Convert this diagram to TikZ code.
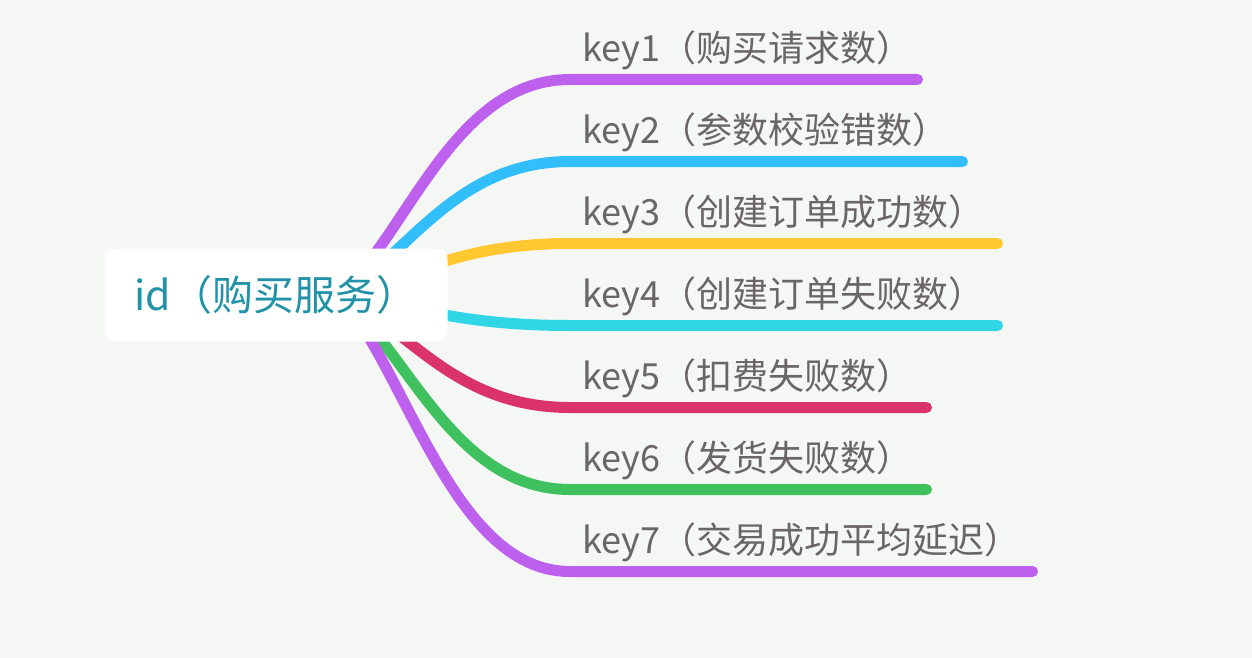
\documentclass[tikz,border=0pt]{standalone}
\usepackage{fontspec}
\setmainfont{Noto Sans CJK SC}
\definecolor{bgcol}{RGB}{245,247,245}
\definecolor{rootcol}{RGB}{33,146,168}
\definecolor{keycol}{RGB}{106,102,100}
\definecolor{kpurple}{RGB}{190,96,238}
\definecolor{kblue}{RGB}{50,190,250}
\definecolor{kyellow}{RGB}{255,199,48}
\definecolor{kcyan}{RGB}{48,214,230}
\definecolor{kred}{RGB}{218,51,106}
\definecolor{kgreen}{RGB}{64,193,96}
\usetikzlibrary{shapes}
\tikzstyle{rootbox}=[rectangle,rounded corners=10pt,fill=white,text=rootcol,minimum width=343pt,minimum height=93pt,inner sep=0pt,font=\fontsize{41}{46}\selectfont]
\tikzstyle{keylabel}=[anchor=base west,inner sep=0pt,text=keycol,font=\fontsize{36}{40}\selectfont]
\tikzstyle{branch} = [draw,line width=11pt,line cap=round]

\begin{document}
\begin{tikzpicture}[x=1pt,y=-1pt]

            \fill[bgcol] (0,0) rectangle (1252,658);
            \useasboundingbox (0,0) rectangle (1252,658);

            \coordinate (hub) at (340,295);

            \coordinate (s1) at (570,79.5);  \coordinate (e1) at (917.5,79.5);
            \coordinate (s2) at (570,161.5); \coordinate (e2) at (962.5,161.5);
            \coordinate (s3) at (570,243.5); \coordinate (e3) at (997.5,243.5);
            \coordinate (s4) at (570,325.5); \coordinate (e4) at (997.5,325.5);
            \coordinate (s5) at (570,407.5); \coordinate (e5) at (926.5,407.5);
            \coordinate (s6) at (570,489.5); \coordinate (e6) at (926.5,489.5);
            \coordinate (s7) at (570,571.5); \coordinate (e7) at (1032.5,571.5);

            \path[branch,color=kpurple] (hub) .. controls (409,230.35) and (455,79.5) .. (s1) -- (e1);
            \path[branch,color=kblue] (hub) .. controls (409,254.95) and (455,161.5) .. (s2) -- (e2);
            \path[branch,color=kyellow] (hub) .. controls (409,279.55) and (455,243.5) .. (s3) -- (e3);
            \path[branch,color=kcyan] (hub) .. controls (409,304.15) and (455,325.5) .. (s4) -- (e4);
            \path[branch,color=kred] (hub) .. controls (409,328.75) and (455,407.5) .. (s5) -- (e5);
            \path[branch,color=kgreen] (hub) .. controls (409,353.35) and (455,489.5) .. (s6) -- (e6);
            \path[branch,color=kpurple] (hub) .. controls (409,377.95) and (455,571.5) .. (s7) -- (e7);

            \node[rootbox] (root) at (276,295) {id（购买服务）};

            \node[keylabel] (k1) at (582,61.5) {key1（购买请求数）};
            \node[keylabel] (k2) at (582,143.5) {key2（参数校验错数）};
            \node[keylabel] (k3) at (582,225.5) {key3（创建订单成功数）};
            \node[keylabel] (k4) at (582,307.5) {key4（创建订单失败数）};
            \node[keylabel] (k5) at (582,389.5) {key5（扣费失败数）};
            \node[keylabel] (k6) at (582,471.5) {key6（发货失败数）};
            \node[keylabel] (k7) at (582,553.5) {key7（交易成功平均延迟）};

\end{tikzpicture}
\end{document}
